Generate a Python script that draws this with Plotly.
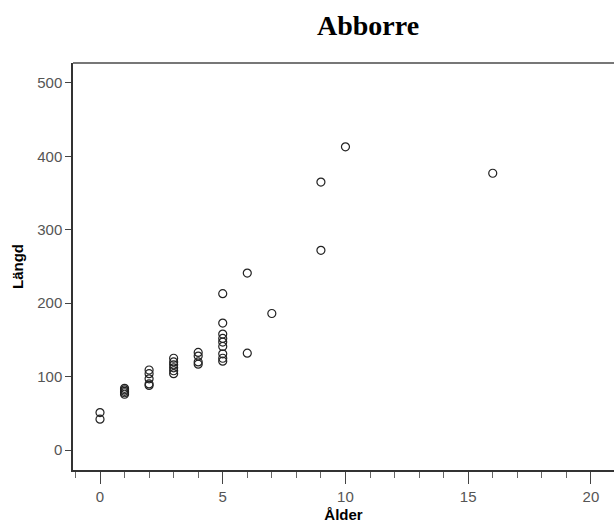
import plotly.graph_objects as go

ages = [0, 0,
        1, 1, 1, 1, 1,
        2, 2, 2, 2, 2,
        3, 3, 3, 3, 3, 3,
        4, 4, 4, 4,
        5, 5, 5, 5, 5, 5, 5, 5, 5,
        6, 6, 7, 9, 9, 10, 16]
lengths = [51, 42,
           76, 78, 80, 82, 84,
           109, 104, 97, 90, 88,
           125, 120, 116, 112, 108, 104,
           133, 128, 120, 117,
           213, 173, 158, 152, 147, 141, 131, 125, 121,
           241, 132, 186, 365, 272, 413, 377]

x_ticks = [0, 5, 10, 15, 20]
y_ticks = [0, 100, 200, 300, 400, 500]

fig = go.Figure()
fig.add_trace(go.Scatter(
    x=ages, y=lengths, mode="markers",
    marker=dict(symbol="circle-open", size=8, color="#222222", line=dict(width=1.2)),
    showlegend=False,
))

fig.update_layout(
    width=614, height=530,
    margin=dict(l=73, r=0, t=63, b=60),
    paper_bgcolor="white", plot_bgcolor="white",
    title=dict(text="<b>Abborre</b>", x=368/614, xref="container", xanchor="center",
               y=1-25/530, yref="container", yanchor="middle",
               font=dict(family="Liberation Serif", size=28, color="black")),
    font=dict(family="Liberation Sans", size=15, color="#444444"),
)
fig.update_xaxes(
    range=[-1.1, 20.94], tickvals=x_ticks, ticks="outside", ticklen=12, tickcolor="#444",
    showgrid=False, zeroline=False, showline=True, linecolor="#333", linewidth=1.5,
    mirror=False,
    minor=dict(dtick=1, tick0=0, ticks="outside", ticklen=6, tickcolor="#666", showgrid=False),
    title=dict(text="<b>Ålder</b>", font=dict(size=15, color="black"), standoff=6),
    tickfont=dict(size=15, color="#555"),
)
fig.update_yaxes(
    range=[-27.2, 527.2], tickvals=y_ticks, ticks="outside", ticklen=6, tickcolor="#444",
    showgrid=False, zeroline=False, showline=True, linecolor="#333", linewidth=1.5,
    title=dict(text="<b>Längd</b>", font=dict(size=15, color="black"), standoff=10),
    tickfont=dict(size=15, color="#555"),
)
fig.add_shape(type="line", xref="paper", yref="paper", x0=0, x1=1, y0=1, y1=1,
              line=dict(color="#777777", width=2))

fig.write_html("out.html")
